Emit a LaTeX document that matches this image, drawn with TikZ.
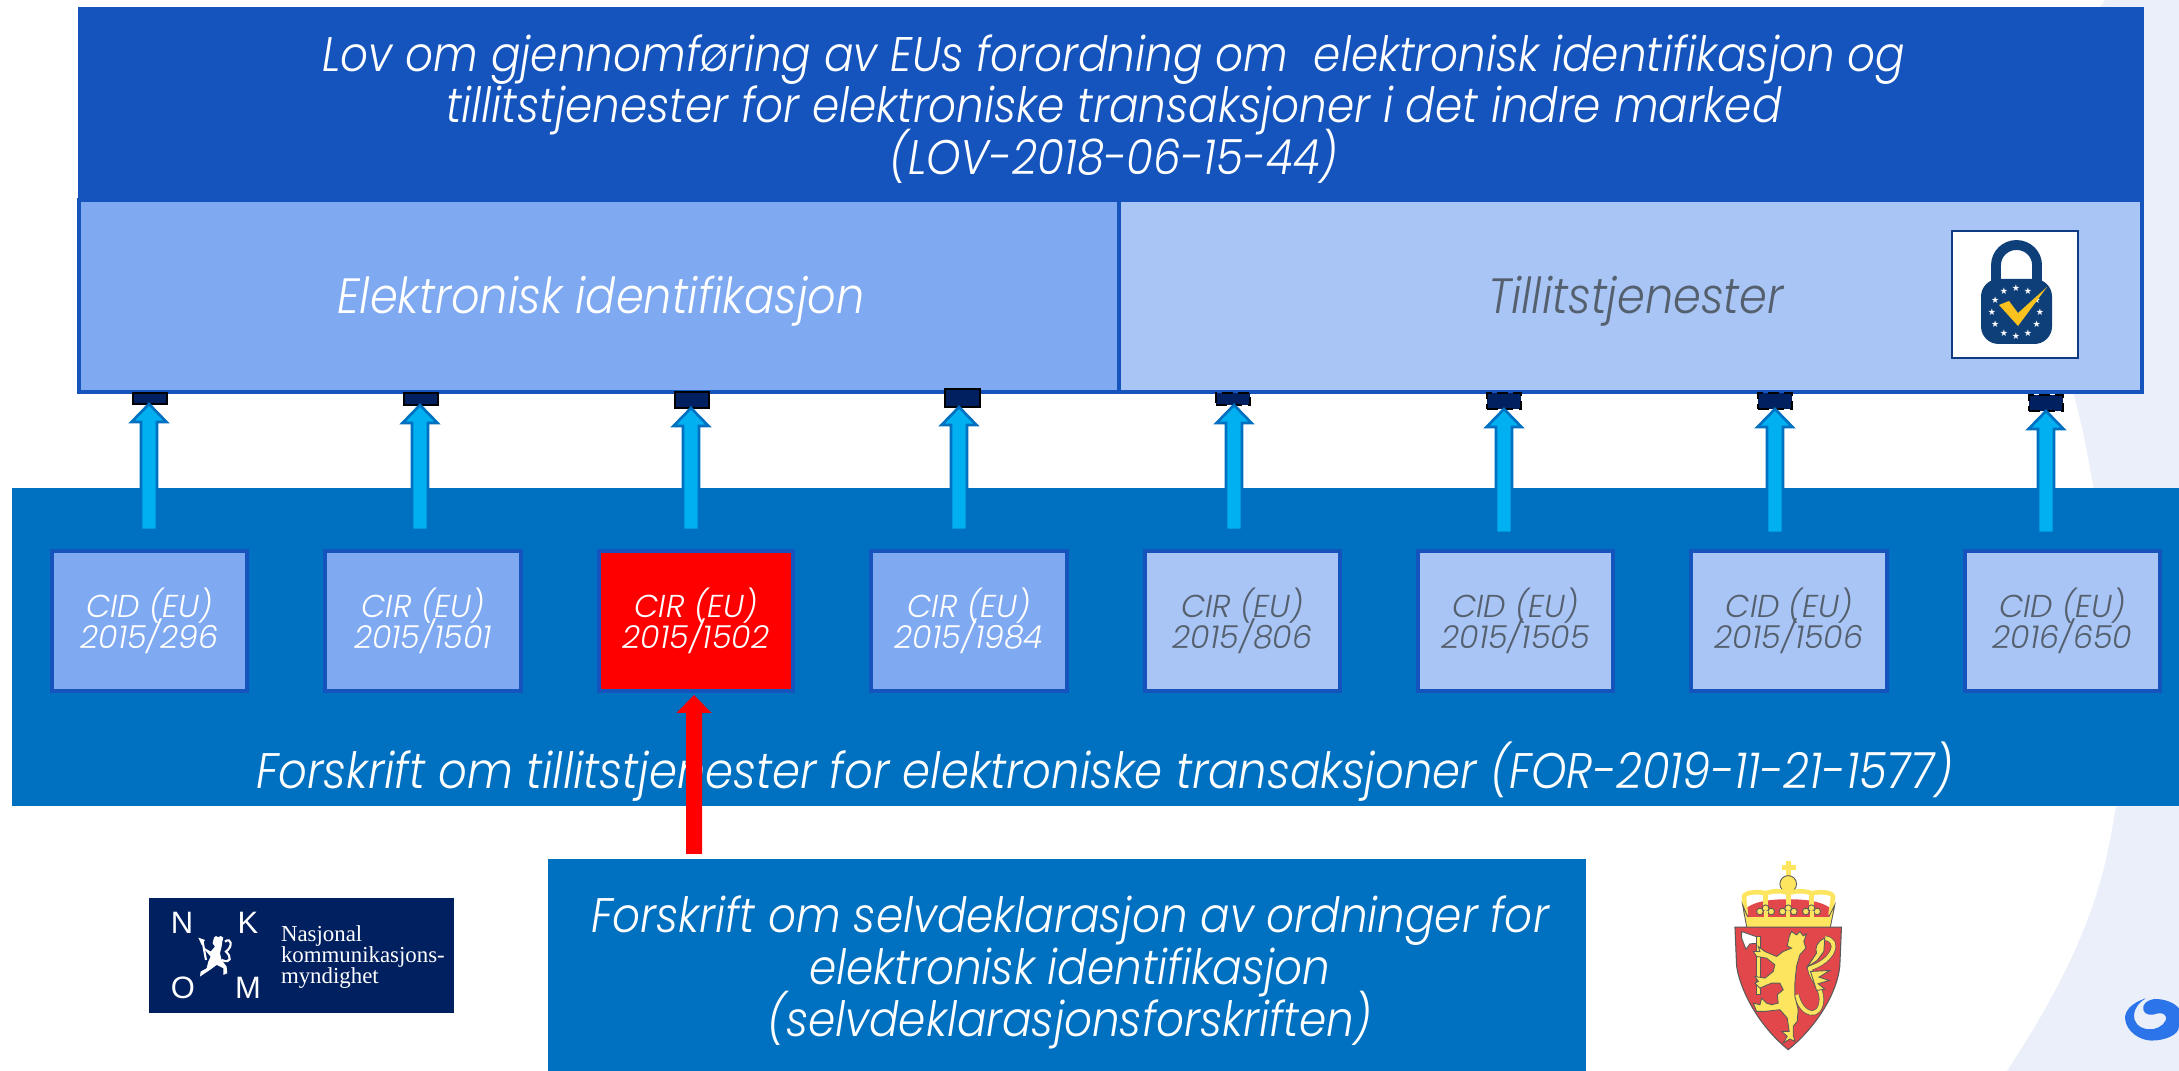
\documentclass[tikz,border=0pt]{standalone}
\usepackage{fontspec}
\usetikzlibrary{calc}
\setmainfont{Poppins Light Italic}
\newfontfamily\narrowfont{Poppins Light Italic}[FakeStretch=0.9]
\newfontfamily\nkomserif{Liberation Serif}
\newfontfamily\nkomsans{Liberation Sans}
\newfontfamily\symfont{DejaVu Sans}
\definecolor{topblue}{HTML}{1554BC}
\definecolor{midblue}{HTML}{7FA9F1}
\definecolor{paleblue}{HTML}{A9C5F5}
\definecolor{bandblue}{HTML}{0070C0}
\definecolor{arrowblue}{HTML}{00B0F0}
\definecolor{darkblue}{HTML}{002060}
\definecolor{bgblue}{HTML}{EAEFF9}
\definecolor{greytext}{HTML}{55606E}
\definecolor{shieldred}{HTML}{E2474B}
\definecolor{crownyellow}{HTML}{FDE55F}
\definecolor{lockblue}{HTML}{0F3F78}
\definecolor{checkyellow}{HTML}{F9C21E}
\definecolor{swirlblue}{HTML}{2B74EA}
\newcommand{\pxbox}[7]{\node[#6,minimum width={(#4-#2)*0.01cm},minimum height={(#5-#3)*0.01cm}] (#1) at ({(#2+#4)/2},{(#3+#5)/2}) {#7};}
\newcommand{\blockarrow}[3]{\path[#3] ($(#1)+(-8,0)$) -- ($(#2)+(-8,18)$) -- ($(#2)+(-17.5,18)$) -- (#2) -- ($(#2)+(17.5,18)$) -- ($(#2)+(8,18)$) -- ($(#1)+(8,0)$) -- cycle;}
\newcommand{\tightfont}[2]{\fontsize{#1}{#2}\selectfont\lineskiplimit=-20pt\relax}
\tikzset{
 base/.style={inner sep=0pt,outer sep=0pt,align=center},
 titlebox/.style={base,fill=topblue,text=white},
 elbox/.style={base,fill=midblue,draw=topblue,line width=0.9pt,text=white},
 tlbox/.style={base,fill=paleblue,draw=topblue,line width=0.9pt,text=greytext},
 redbox/.style={base,fill=red,draw=topblue,line width=0.9pt,text=white},
 bandbox/.style={base,fill=bandblue,text=white},
 pin/.style={base,fill=darkblue,draw=black,line width=0.6pt},
 pindash/.style={pin,dash pattern=on 3pt off 1.5pt},
 uparrow/.style={fill=arrowblue,draw=bandblue,line width=0.75pt},
 redarrow/.style={fill=red},
 big/.style={font=\narrowfont\tightfont{13.8}{14.6}},
 mid/.style={font=\narrowfont\tightfont{14.1}{18}},
 small/.style={font=\tightfont{9}{8.8}},
 nkomletter/.style={text=white,font=\fontsize{8.8}{10}\selectfont\nkomsans,inner sep=0pt},
 outlined/.style={draw=black!65,line width=0.25pt},
}
\begin{document}
\begin{tikzpicture}[x=0.01cm,y=-0.01cm]
\clip (0,0) rectangle (2179,1071);
% background
\fill[bgblue] (2179,0) -- (2105,0) -- (2100,7) -- (2050,300) -- (2073,392) .. controls (2090,450) and (2105,560) .. (2118,650) .. controls (2125,730) and (2120,790) .. (2110,840) .. controls (2095,920) and (2060,990) .. (2007,1071) -- (2179,1071) -- cycle;
% main boxes
\pxbox{band}{12}{488}{2179}{806}{bandbox}{}
\pxbox{title}{78}{7}{2144}{201}{titlebox}{}
\node[base,text=white,big] (titletext) at (1114,109) {Lov om gjennomføring av EUs forordning om\ \ elektronisk identifikasjon og\\tillitstjenester for elektroniske transaksjoner i det indre marked\\(LOV-2018-06-15-44)};
\pxbox{eid}{79}{200}{1119}{392}{elbox}{}
\pxbox{trust}{1119}{200}{2142}{392}{tlbox}{}
\node[base,text=white,mid] (eidtext) at (601,301.5) {Elektronisk identifikasjon};
\node[base,text=greytext,mid] (trusttext) at (1636,301.5) {Tillitstjenester};
\node[base,text=white,font=\narrowfont\tightfont{14.2}{18}] (forskrift) at (1105,772) {Forskrift om tillitstjenester for elektroniske transaksjoner (FOR-2019-11-21-1577)};
\pxbox{selv}{548}{859}{1586}{1071}{bandbox}{}
\node[base,text=white,font=\narrowfont\tightfont{13.8}{14.8}] (selvtext) at (1070,972) {Forskrift om selvdeklarasjon av ordninger for\\elektronisk identifikasjon\\(selvdeklarasjonsforskriften)};
% small boxes
\pxbox{b1}{52}{551}{247}{691}{elbox,small}{CID (EU)\\2015/296}
\pxbox{b2}{325}{551}{521}{691}{elbox,small}{CIR (EU)\\2015/1501}
\pxbox{b3}{599}{551}{793}{691}{redbox,small}{CIR (EU)\\2015/1502}
\pxbox{b4}{871}{551}{1067}{691}{elbox,small}{CIR (EU)\\2015/1984}
\pxbox{b5}{1145}{551}{1340}{691}{tlbox,small}{CIR (EU)\\2015/806}
\pxbox{b6}{1418}{551}{1613}{691}{tlbox,small}{CID (EU)\\2015/1505}
\pxbox{b7}{1691}{551}{1887}{691}{tlbox,small}{CID (EU)\\2015/1506}
\pxbox{b8}{1965}{551}{2160}{691}{tlbox,small}{CID (EU)\\2016/650}
% pins
\pxbox{p1}{133}{393}{167}{404}{pin}{}
\pxbox{p2}{404}{393}{438}{405}{pin}{}
\pxbox{p3}{675}{392}{709}{408}{pin}{}
\pxbox{p4}{945}{389}{980}{407}{pin}{}
\pxbox{p5}{1216}{393}{1250}{405}{pindash}{}
\pxbox{p6}{1487}{393}{1521}{409}{pindash}{}
\pxbox{p7}{1758}{393}{1792}{409}{pindash}{}
\pxbox{p8}{2029}{395}{2063}{411}{pindash}{}
% arrow feet
\coordinate (f1) at (149,530);
\coordinate (f2) at (420,530);
\coordinate (f3) at (691,530);
\coordinate (f4) at (959,530);
\coordinate (f5) at (1234,530);
\coordinate (f6) at (1504,533);
\coordinate (f7) at (1775,533);
\coordinate (f8) at (2046,533);
\foreach \i in {1,...,8}{\blockarrow{f\i}{f\i |- p\i.south}{uparrow}}
% red arrow
\coordinate (fr) at (694,854);
\coordinate (tr) at (694,695);
\blockarrow{fr}{tr}{redarrow}
% lock icon
\pxbox{lockframe}{1952}{231}{2078}{358}{base,fill=white,draw=topblue!70!black,line width=0.5pt}{}
\draw[lockblue,line width=2.8pt] (1996,285) -- (1996,265) arc[start angle=180,end angle=0,x radius=20.5,y radius=-20] -- (2037,285);
\fill[lockblue,rounded corners=5pt] (1981,279) rectangle (2052,344);
\foreach \a in {0,30,...,330}{\node[text=white,font=\fontsize{2.6}{3}\selectfont\symfont,inner sep=0pt] at ({2016+24*cos(\a)},{312+24*sin(\a)}) {★};}
\fill[checkyellow] (1999,305) -- (2009,301) -- (2018,313) -- (2047,287) -- (2018,326) -- cycle;
% NKOM logo
\pxbox{nkom}{149}{898}{454}{1013}{base,fill=darkblue}{}
\node[nkomletter] (lN) at (182,923) {N};
\node[nkomletter] (lK) at (248,923) {K};
\node[nkomletter] (lO) at (183,988) {O};
\node[nkomletter] (lM) at (248,988) {M};
\begin{scope}[shift={(190,925)},x=0.00333cm,y=-0.00333cm]
 \fill[white] (72,38) -- (78,33) -- (85,37) -- (92,33) -- (100,38) -- (97,50) -- (95,65) -- (90,85) -- (95,105) -- (110,125) -- (112,145) -- (100,150) -- (100,130) -- (80,120) -- (60,135) -- (45,145) -- (30,155) -- (32,140) -- (50,130) -- (55,110) -- (62,95) -- (45,75) -- (42,68) -- (62,80) -- (75,65) -- (68,55) -- cycle;
 \draw[white,line width=0.6pt] (95,105) .. controls (125,118) and (125,95) .. (108,80) .. controls (130,65) and (125,35) .. (105,50);
 \fill[white] (25,38) -- (45,45) -- (35,60) -- cycle;
 \draw[white,line width=0.6pt] (38,50) -- (48,105);
\end{scope}
\node[base,anchor=west,align=left,text=white,font=\nkomserif\tightfont{6.5}{6.1}] (nkomtext) at (281,957) {Nasjonal\\kommunikasjons-\\myndighet};
% coat of arms
\begin{scope}[shift={(1700,840)},x=0.00333cm,y=-0.00333cm]
 % cross and orb
 \draw[crownyellow,line width=1.4pt] (265,115) -- (265,62);
 \draw[crownyellow,line width=1.4pt] (245,82) -- (287,82);
 \fill[crownyellow,outlined] (265,132) circle (25);
 % red dome
 \fill[shieldred] (138,235) -- (138,205) .. controls (170,180) and (230,178) .. (265,178) .. controls (300,178) and (360,180) .. (392,205) -- (392,235) -- cycle;
 % arches
 \draw[crownyellow,line width=1.3pt,line join=round] (138,225) -- (132,170) .. controls (135,155) and (180,155) .. (197,160) .. controls (220,152) and (250,152) .. (265,160) .. controls (285,152) and (315,152) .. (335,160) .. controls (360,155) and (395,155) .. (400,170) -- (392,225);
 \draw[crownyellow,line width=1.3pt] (197,160) -- (197,205);
 \draw[crownyellow,line width=1.3pt] (265,160) -- (265,205);
 \draw[crownyellow,line width=1.3pt] (335,160) -- (335,205);
 % band with trefoils
 \fill[crownyellow,outlined] (128,195) -- (140,260) -- (392,260) -- (405,195) -- (385,235) -- (145,235) -- cycle;
 \fill[crownyellow] (140,232) rectangle (392,260);
 \foreach \x in {197,265,335}{
  \fill[crownyellow,outlined] (\x-17,215) circle (10);
  \fill[crownyellow,outlined] (\x+17,215) circle (10);
  \fill[crownyellow,outlined] (\x,205) circle (10);
  \fill[crownyellow] (\x-6,212) rectangle (\x+6,235);
 }
 % shield
 \filldraw[fill=shieldred,draw=black!65,line width=0.3pt] (105,262) -- (425,262) -- (420,380) .. controls (410,470) and (340,570) .. (265,630) .. controls (190,570) and (125,470) .. (110,380) -- cycle;
 % axe
 \fill[white,outlined] (125,275) -- (182,295) -- (182,310) -- (150,312) -- (138,328) -- (125,295) -- cycle;
 \fill[crownyellow,outlined] (170,290) rectangle (181,465);
 % tail
 \draw[black!65,line width=1.5pt] (290,465) .. controls (305,530) and (362,540) .. (365,480) .. controls (365,440) and (335,420) .. (330,385) .. controls (400,365) and (425,300) .. (375,295);
 \draw[crownyellow,line width=1.1pt] (290,465) .. controls (305,530) and (362,540) .. (365,480) .. controls (365,440) and (335,420) .. (330,385) .. controls (400,365) and (425,300) .. (375,295);
 \fill[crownyellow,outlined] (375,295) .. controls (350,305) and (345,325) .. (350,340) -- (322,382) -- (352,362) -- (372,335) -- cycle;
 \fill[crownyellow,outlined] (332,395) -- (390,392) -- (358,412) -- (388,422) -- (355,432) -- (375,448) -- (350,452) -- cycle;
 % lion
 \fill[crownyellow,outlined] (268,290) -- (275,275) -- (290,285) -- (300,275) -- (310,288) -- (320,282) -- (312,305) -- (318,325) -- (300,345) -- (290,380) -- (285,430) -- (285,470) -- (295,510) -- (292,545) -- (280,560) -- (280,585) -- (285,605) -- (270,598) -- (250,610) -- (262,590) -- (245,575) -- (268,575) -- (262,535) -- (240,510) -- (195,515) -- (170,515) -- (160,490) -- (180,495) -- (185,475) -- (200,490) -- (215,495) -- (235,490) -- (232,465) -- (250,450) -- (240,430) -- (215,430) -- (180,445) -- (165,430) -- (175,425) -- (165,410) -- (195,415) -- (220,395) -- (225,375) -- (200,355) -- (170,350) -- (160,335) -- (180,335) -- (175,320) -- (195,335) -- (230,350) -- (250,335) -- (275,325) -- (262,318) -- (265,305) -- cycle;
\end{scope}
% swirl
\begin{scope}[shift={(2110,985)},x=0.00333cm,y=-0.00333cm]
 \fill[swirlblue] (108,40) .. controls (60,55) and (45,80) .. (45,100) .. controls (48,140) and (90,167) .. (125,167) .. controls (165,167) and (207,150) .. (207,125) -- (207,70) .. controls (190,50) and (160,42) .. (135,42) .. controls (110,45) and (95,60) .. (100,75) .. controls (105,92) and (125,92) .. (145,85) .. controls (160,82) and (172,92) .. (168,105) .. controls (160,125) and (135,135) .. (115,133) .. controls (85,130) and (70,110) .. (72,90) .. controls (75,65) and (90,50) .. (108,40) -- cycle;
\end{scope}
\end{tikzpicture}
\end{document}
